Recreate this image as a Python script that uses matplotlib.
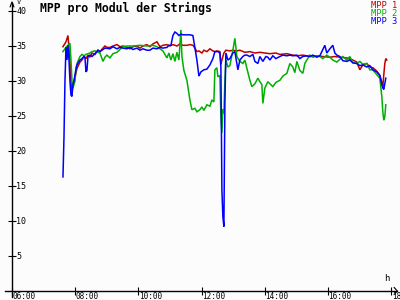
import matplotlib
matplotlib.use("Agg")
import matplotlib.pyplot as plt
from matplotlib.transforms import offset_copy

# zeiten in stunden, werte in volt pro modul
t_mpp1 = [7.614, 7.709, 7.772, 7.835, 7.867, 7.899, 7.930, 7.994, 8.057, 8.152, 8.215, 8.278, 8.342,
          8.405, 8.468, 8.532, 8.627, 8.722, 8.785, 8.880, 8.943, 9.006, 9.101, 9.196, 9.323, 9.418,
          9.513, 9.639, 9.734, 9.829, 9.956, 10.051, 10.146, 10.272, 10.367, 10.462, 10.589, 10.684,
          10.778, 10.905, 11.000, 11.095, 11.222, 11.316, 11.411, 11.538, 11.633, 11.728, 11.791,
          11.854, 11.918, 12.013, 12.076, 12.171, 12.266, 12.361, 12.424, 12.487, 12.582, 12.614,
          12.646, 12.709, 12.772, 12.899, 12.994, 13.120, 13.215, 13.373, 13.532, 13.690, 13.848,
          14.006, 14.165, 14.354, 14.481, 14.703, 14.892, 15.019, 15.209, 15.430, 15.652, 15.842,
          16.063, 16.222, 16.380, 16.601, 16.791, 16.918, 17.013, 17.108, 17.234, 17.329, 17.424,
          17.551, 17.646, 17.709, 17.741, 17.772, 17.804, 17.835, 17.867]
v_mpp1 = [34.9, 35.6, 36.5, 33.0, 29.9, 28.5, 29.5, 30.5, 31.8, 32.7, 33.0, 33.5, 33.2,
          33.7, 33.4, 34.0, 33.8, 34.4, 34.2, 34.7, 35.0, 34.8, 34.8, 35.0, 35.2, 34.9,
          35.0, 34.8, 34.6, 34.9, 35.0, 34.7, 35.0, 35.2, 34.9, 35.3, 35.6, 34.9,
          35.1, 35.2, 35.0, 35.2, 35.0, 35.3, 35.1, 35.1, 35.2, 35.1, 34.7,
          34.2, 34.3, 34.0, 34.4, 34.2, 34.6, 34.3, 34.2, 34.3, 34.2, 32.4,
          33.0, 34.0, 34.4, 34.3, 34.4, 34.3, 34.4, 34.1, 34.2, 34.0, 34.1,
          34.0, 33.9, 34.0, 33.8, 33.9, 33.7, 33.6, 33.7, 33.5, 33.6, 33.5,
          33.4, 33.5, 33.4, 33.3, 33.0, 32.7, 31.6, 32.3, 32.5, 32.0, 31.9,
          31.4, 30.8, 29.8, 29.2, 30.9, 32.5, 33.2, 33.0]

t_mpp2 = [7.614, 7.709, 7.835, 7.867, 7.899, 7.930, 7.994, 8.025, 8.057, 8.152, 8.215, 8.278, 8.342,
          8.405, 8.468, 8.532, 8.627, 8.722, 8.785, 8.880, 8.943, 9.006, 9.101, 9.196, 9.323, 9.418,
          9.513, 9.639, 9.829, 10.051, 10.272, 10.462, 10.589, 10.684, 10.778, 10.905, 10.968,
          11.032, 11.095, 11.158, 11.222, 11.285, 11.348, 11.380, 11.443, 11.538, 11.633, 11.696,
          11.791, 11.854, 11.949, 12.013, 12.076, 12.171, 12.266, 12.329, 12.392, 12.424, 12.487,
          12.519, 12.582, 12.614, 12.646, 12.677, 12.709, 12.741, 12.772, 12.835, 12.899, 12.994,
          13.057, 13.120, 13.215, 13.310, 13.373, 13.437, 13.532, 13.595, 13.690, 13.785, 13.848,
          13.911, 13.943, 14.006, 14.101, 14.165, 14.259, 14.354, 14.481, 14.576, 14.703, 14.797,
          14.892, 14.956, 15.019, 15.114, 15.209, 15.272, 15.335, 15.430, 15.525, 15.652, 15.747,
          15.842, 15.968, 16.063, 16.158, 16.285, 16.380, 16.475, 16.601, 16.696, 16.791, 16.918,
          17.013, 17.108, 17.234, 17.329, 17.424, 17.551, 17.646, 17.709, 17.741, 17.772, 17.804,
          17.835]
v_mpp2 = [34.2, 34.8, 35.4, 33.0, 30.0, 29.0, 30.0, 31.8, 32.5, 33.5, 33.8, 33.6, 33.8,
          33.9, 34.0, 34.2, 34.3, 34.1, 34.0, 32.8, 33.4, 33.7, 33.3, 33.9, 34.1, 34.5,
          34.9, 35.0, 35.0, 35.1, 35.0, 35.1, 34.9, 34.6, 34.3, 33.3, 34.0,
          33.0, 33.9, 32.8, 34.1, 33.0, 37.3, 33.5, 31.5, 30.1, 27.3, 25.9,
          26.1, 25.6, 25.9, 26.3, 25.8, 26.6, 26.4, 27.3, 27.0, 31.6, 31.9,
          30.6, 30.8, 24.9, 22.6, 26.0, 25.4, 30.1, 33.0, 32.0, 32.2, 34.4,
          36.1, 33.5, 32.8, 32.5, 33.0, 31.8, 30.1, 29.2, 29.6, 30.4, 29.9,
          29.5, 26.8, 29.0, 29.9, 29.6, 29.2, 29.8, 30.1, 30.7, 31.1, 32.5,
          32.0, 31.2, 32.8, 31.5, 31.1, 32.5, 33.0, 33.7, 33.4, 33.6, 33.5,
          33.2, 33.7, 33.4, 33.0, 32.7, 33.1, 33.5, 33.0, 33.5, 32.6, 32.5,
          32.8, 32.4, 32.5, 31.6, 31.6, 30.9, 30.4, 27.8, 25.6, 24.4, 24.9,
          26.6]

t_mpp3 = [7.614, 7.646, 7.677, 7.709, 7.741, 7.772, 7.804, 7.835, 7.867, 7.899, 7.930, 7.962, 7.994,
          8.025, 8.057, 8.152, 8.215, 8.278, 8.310, 8.342, 8.373, 8.405, 8.468, 8.532, 8.627, 8.722,
          8.785, 8.880, 8.943, 9.101, 9.196, 9.323, 9.418, 9.513, 9.639, 9.734, 9.829, 9.956,
          10.051, 10.146, 10.272, 10.367, 10.462, 10.589, 10.684, 10.778, 10.905, 10.968, 11.032,
          11.095, 11.158, 11.222, 11.285, 11.348, 11.411, 11.538, 11.633, 11.728, 11.791, 11.854,
          11.918, 11.981, 12.076, 12.171, 12.266, 12.361, 12.424, 12.519, 12.582, 12.614, 12.646,
          12.677, 12.709, 12.741, 12.772, 12.835, 12.899, 12.994, 13.057, 13.152, 13.215, 13.310,
          13.373, 13.437, 13.532, 13.627, 13.690, 13.785, 13.848, 13.943, 14.038, 14.101, 14.165,
          14.259, 14.354, 14.481, 14.576, 14.703, 14.797, 14.892, 15.019, 15.114, 15.209, 15.335,
          15.430, 15.525, 15.652, 15.747, 15.842, 15.905, 15.968, 16.063, 16.158, 16.222, 16.285,
          16.380, 16.475, 16.601, 16.696, 16.791, 16.918, 17.013, 17.108, 17.234, 17.329, 17.424,
          17.551, 17.646, 17.709, 17.741, 17.772, 17.804, 17.835]
v_mpp3 = [16.3, 22.0, 30.0, 34.8, 33.0, 35.1, 33.0, 30.0, 28.0, 27.8, 29.5, 30.0, 30.9,
          31.7, 32.3, 33.0, 33.2, 33.5, 33.4, 31.3, 31.5, 33.5, 33.7, 33.5, 33.9, 34.4,
          34.2, 34.5, 34.7, 34.6, 34.9, 34.6, 34.8, 34.7, 34.6, 34.8, 34.5, 34.7,
          34.4, 34.6, 34.4, 34.4, 34.7, 34.6, 34.8, 34.7, 34.8, 35.1, 35.1,
          36.5, 37.0, 36.8, 36.5, 36.7, 36.6, 36.6, 36.6, 36.5, 34.7, 33.0,
          30.7, 31.3, 31.6, 31.7, 32.3, 33.2, 34.2, 34.2, 34.0, 32.0, 14.4,
          10.6, 9.2, 26.9, 34.0, 33.0, 33.2, 34.0, 34.2, 31.6, 33.0, 33.5,
          33.7, 33.7, 33.5, 33.8, 32.8, 32.5, 33.5, 32.8, 33.5, 33.4, 33.0,
          33.6, 33.2, 33.5, 33.7, 33.6, 33.7, 33.6, 33.7, 33.2, 33.5, 33.6,
          33.5, 33.7, 33.4, 33.6, 34.5, 35.1, 34.0, 34.6, 35.1, 34.0, 33.7,
          33.5, 32.9, 32.8, 33.0, 32.6, 32.5, 32.2, 32.3, 32.0, 32.2, 31.6,
          31.3, 30.8, 29.5, 29.0, 28.8, 29.6, 30.4]

namen = ["MPP 1", "MPP 2", "MPP 3"]
farben = ["#c00000", "#00b000", "#0000ff"]
y_ticks = [5, 10, 15, 20, 25, 30, 35, 40]
x_ticks = [6, 8, 10, 12, 14, 16, 18]
x_labels = ["06:00", "08:00", "10:00", "12:00", "14:00", "16:00", "18:00"]

plt.rcParams['font.family'] = ['DejaVu Sans Mono']

fig = plt.figure(figsize=(4, 3), dpi=100, facecolor="#fcfcfc")
ax = fig.add_axes([0.03, 0.03, 0.9475, 0.9333])
ax.set_facecolor("#fcfcfc")
ax.set_xlim(6, 18)
ax.set_ylim(0, 40)

for t, v, farbe in zip([t_mpp1, t_mpp2, t_mpp3], [v_mpp1, v_mpp2, v_mpp3], farben):
    ax.plot(t, v, color=farbe, lw=1.1, solid_joinstyle="miter")

for s in ax.spines.values():
    s.set_visible(False)

# achsen mit pfeilen, ueber den plotbereich hinaus
ax.plot([6, 6], [-0.9, 41.2], color="black", lw=1.0, clip_on=False)
ax.plot([5.78, 18.2], [0, 0], color="black", lw=1.0, clip_on=False)
ax.plot([5.94, 6, 6.06], [40.6, 41.3, 40.6], color="black", lw=0.8, clip_on=False)
ax.plot([18.1, 18.2, 18.1], [0.5, 0, -0.5], color="black", lw=0.8, clip_on=False)

ax.set_xticks(x_ticks)
ax.set_yticks(y_ticks)
ax.set_xticklabels([])
ax.set_yticklabels([])
ax.tick_params(axis="both", direction="inout", length=6, width=0.8, color="black")

trans_y = offset_copy(ax.transData, fig=fig, x=3, y=0, units="points")
for v in y_ticks:
    ax.text(6, v, str(v), transform=trans_y, ha="left", va="center", fontsize=6)

trans_x = offset_copy(ax.transData, fig=fig, x=0.5, y=-1.0, units="points")
for x, lab in zip(x_ticks, x_labels):
    ax.text(x, 0, lab, transform=trans_x, ha="left", va="top", fontsize=5.5, clip_on=False)

ax.text(6.15, 41.3, "V", fontsize=5, ha="left", va="center", clip_on=False)
ax.text(17.87, 1.1, "h", fontsize=6.5, ha="center", va="bottom")

fig.text(0.1, 0.973, "MPP pro Modul der Strings", fontsize=8.3, fontweight="bold",
         ha="left", va="center")
for i, (name, farbe) in enumerate(zip(namen, farben)):
    fig.text(0.993, 0.982 - i * 0.027, name, color=farbe, fontsize=6.3, ha="right", va="center")

fig.savefig("out.png", dpi=100, facecolor=fig.get_facecolor())
